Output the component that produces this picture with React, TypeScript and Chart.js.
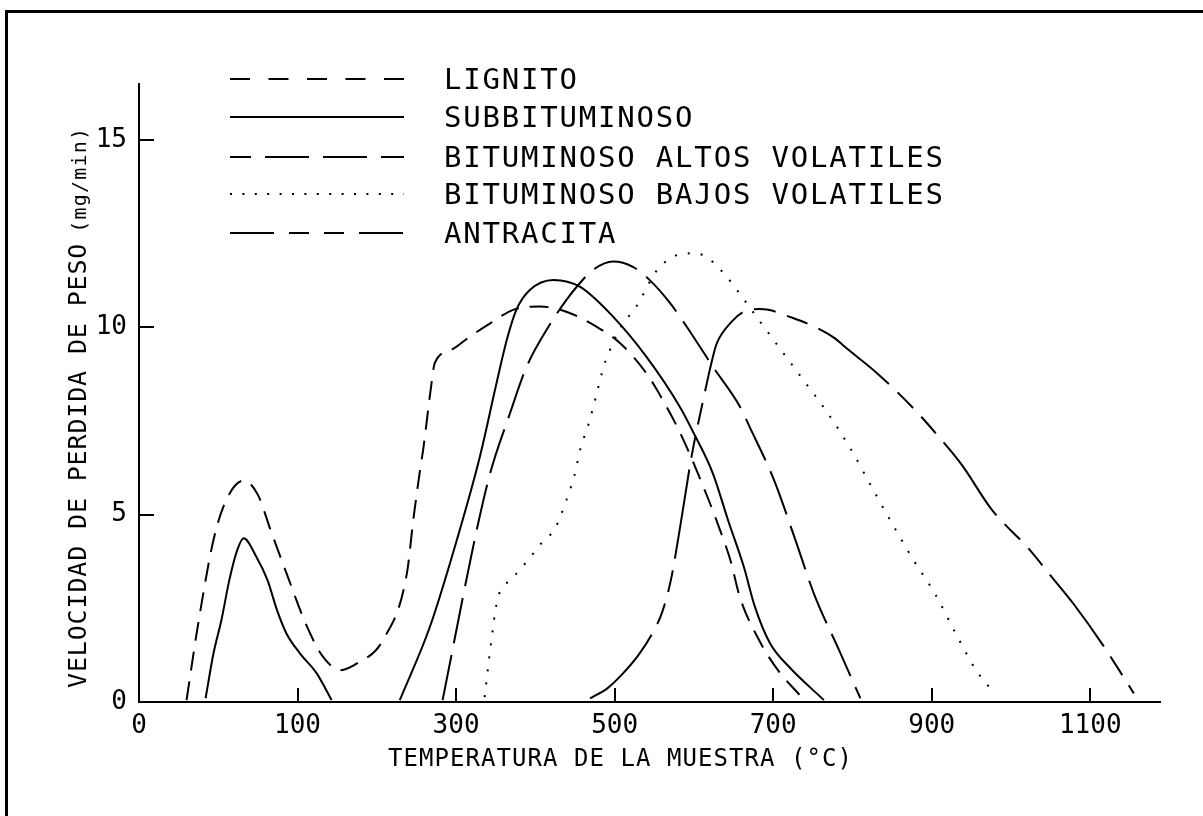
import React, { useEffect, useRef } from 'react';
import { Chart, LinearScale, registerables } from 'chart.js';

// ---------- axis ticks / labels ----------
const X_TICKS = [0, 100, 300, 500, 700, 900, 1100];
const Y_TICKS = [0, 5, 10, 15];
const X_TITLE = 'TEMPERATURA DE LA MUESTRA (°C)';
const Y_TITLE = 'VELOCIDAD DE PERDIDA DE PESO';
const Y_UNIT = '(mg/min)';
const LEGEND_LABELS = [
  'LIGNITO',
  'SUBBITUMINOSO',
  'BITUMINOSO ALTOS VOLATILES',
  'BITUMINOSO BAJOS VOLATILES',
  'ANTRACITA',
];

// ---------- series (temperature ºC, mg/min) ----------
const LIGNITO_T = [30, 37, 47, 55, 66, 75, 83, 93, 112, 132, 154, 175, 208, 238, 246, 254, 259, 269, 273, 294, 317, 343, 372, 406, 439, 477, 507, 540, 556, 585, 617, 633, 646, 658, 682, 706, 735];
const LIGNITO_V = [0.05, 2.0, 4.33, 5.39, 5.91, 5.53, 4.59, 3.44, 2.01, 1.21, 0.85, 1.03, 1.66, 3.44, 4.86, 6.11, 6.82, 8.51, 9.04, 9.4, 9.75, 10.11, 10.47, 10.56, 10.42, 10.02, 9.58, 8.78, 8.24, 7.08, 5.48, 4.59, 3.79, 2.8, 1.66, 0.85, 0.15];

const SUB_LOW_T = [42, 47, 52, 57, 62, 66, 74, 81, 87, 93, 103, 124, 143];
const SUB_LOW_V = [0.1, 1.3, 2.19, 3.26, 4.06, 4.37, 3.88, 3.26, 2.46, 1.83, 1.3, 0.77, 0.05];

const SUB_HIGH_T = [229, 267, 301, 330, 351, 364, 376, 393, 423, 456, 498, 540, 582, 600, 624, 643, 663, 677, 696, 720, 764];
const SUB_HIGH_V = [0.05, 2.01, 4.33, 6.55, 8.51, 9.67, 10.47, 11.0, 11.27, 11.09, 10.29, 9.22, 7.89, 7.17, 6.1, 4.86, 3.61, 2.54, 1.57, 0.94, 0.05];

const ALTOS_T = [283, 326, 343, 368, 389, 414, 439, 456, 473, 498, 523, 544, 570, 591, 624, 658, 670, 701, 728, 752, 783, 810];
const ALTOS_V = [0.05, 4.59, 6.11, 7.71, 8.95, 9.93, 10.73, 11.18, 11.54, 11.76, 11.62, 11.27, 10.65, 10.02, 8.95, 7.89, 7.36, 5.93, 4.33, 2.86, 1.39, 0.1];

const BAJOS_T = [336, 343, 352, 362, 378, 393, 408, 425, 438, 449, 457, 468, 477, 486, 492, 507, 528, 554, 584, 601, 618, 643, 664, 685, 706, 738, 769, 798, 824, 850, 877, 905, 929, 956, 979];
const BAJOS_V = [0.13, 1.39, 2.72, 3.12, 3.47, 3.85, 4.25, 4.64, 5.32, 6.03, 6.77, 7.48, 8.2, 8.94, 9.29, 9.98, 10.58, 11.54, 11.96, 11.98, 11.85, 11.31, 10.72, 10.11, 9.51, 8.6, 7.71, 6.75, 5.75, 4.77, 3.79, 2.86, 1.88, 0.85, 0.23];

const ANTRA_T = [469, 490, 510, 530, 548, 560, 571, 582, 597, 610, 624, 629, 648, 663, 682, 694, 720, 752, 778, 790, 831, 877, 909, 938, 976, 1022, 1051, 1080, 1116, 1155];
const ANTRA_V = [0.1, 0.35, 0.75, 1.25, 1.85, 2.4, 3.26, 4.59, 6.55, 7.89, 9.22, 9.58, 10.16, 10.42, 10.49, 10.47, 10.29, 10.02, 9.71, 9.49, 8.78, 7.84, 7.08, 6.33, 5.13, 4.1, 3.35, 2.59, 1.52, 0.23];

// ---------- the printed temperature axis: first interval 100 ºC, then 200 ºC per tick ----------
function toUnit(t: number) {
  return t <= 100 ? t / 100 : 1 + (t - 100) / 200;
}
function fromUnit(u: number) {
  return u <= 1 ? u * 100 : 100 + (u - 1) * 200;
}

class BrokenTempScale extends LinearScale {
  static id = 'brokenTemp';
  static defaults = LinearScale.defaults;
  getPixelForValue(value: any) {
    if (value === null || value === undefined || isNaN(value)) return NaN;
    const a = toUnit(this.min);
    const b = toUnit(this.max);
    return this.getPixelForDecimal((toUnit(value) - a) / (b - a));
  }
  getValueForPixel(pixel: number) {
    const a = toUnit(this.min);
    const b = toUnit(this.max);
    return fromUnit(a + this.getDecimalForPixel(pixel) * (b - a));
  }
}

Chart.register(...registerables, BrokenTempScale as any);

const FONT = '"DejaVu Sans Mono", "Liberation Mono", monospace';

const legendStyles = [
  { dash: [20, 18.5], offset: 0 },
  { dash: [], offset: 0 },
  { dash: [44, 14], offset: 23 },
  { dash: [2, 10.4], offset: 0 },
  { dash: [44, 15, 20, 15, 20, 15], offset: 0 },
];
const legendRowY = [79, 117, 157, 194, 233];

const decorPlugin = {
  id: 'decor',
  afterDraw(chart: any) {
    const ctx = chart.ctx as CanvasRenderingContext2D;
    const xs = chart.scales.x;
    const ys = chart.scales.y;
    const area = chart.chartArea;
    ctx.save();
    ctx.strokeStyle = '#000';
    ctx.fillStyle = '#000';
    ctx.lineWidth = 2;
    // inward tick marks
    ctx.beginPath();
    xs.ticks.forEach((t: any) => {
      if (t.value === 0) return;
      const px = Math.round(xs.getPixelForValue(t.value));
      ctx.moveTo(px, area.bottom);
      ctx.lineTo(px, area.bottom - 14);
    });
    ys.ticks.forEach((t: any) => {
      if (t.value === 0) return;
      const py = Math.round(ys.getPixelForValue(t.value));
      ctx.moveTo(area.left, py);
      ctx.lineTo(area.left + 15, py);
    });
    ctx.stroke();

    // legend
    const lx0 = 230;
    const lx1 = 404;
    LEGEND_LABELS.forEach((label, i) => {
      const y = legendRowY[i];
      const st = legendStyles[i];
      ctx.save();
      ctx.lineWidth = 2;
      ctx.setLineDash(st.dash);
      ctx.lineDashOffset = st.offset;
      ctx.beginPath();
      ctx.moveTo(lx0, y);
      ctx.lineTo(lx1, y);
      ctx.stroke();
      ctx.restore();
      ctx.save();
      (ctx as any).letterSpacing = '1.8px';
      ctx.font = `29px ${FONT}`;
      ctx.textAlign = 'left';
      ctx.textBaseline = 'alphabetic';
      ctx.fillText(label, 444, y + 10);
      ctx.restore();
    });

    // x title
    ctx.save();
    (ctx as any).letterSpacing = '1.05px';
    ctx.font = `24px ${FONT}`;
    ctx.textAlign = 'left';
    ctx.textBaseline = 'alphabetic';
    ctx.fillText(X_TITLE, 388, 766);
    ctx.restore();

    // y title (rotated)
    ctx.save();
    ctx.translate(86, 688);
    ctx.rotate(-Math.PI / 2);
    (ctx as any).letterSpacing = '0.85px';
    ctx.font = `25px ${FONT}`;
    ctx.textAlign = 'left';
    ctx.textBaseline = 'alphabetic';
    ctx.fillText(Y_TITLE, 0, 0);
    const w = ctx.measureText(Y_TITLE).width;
    (ctx as any).letterSpacing = '1.2px';
    ctx.font = `20px ${FONT}`;
    ctx.fillText(Y_UNIT, w + 10, 0);
    ctx.restore();

    ctx.restore();
  },
};

function series(T: number[], V: number[]) {
  return T.map((t, i) => ({ x: t, y: V[i] }));
}

export default function App() {
  const ref = useRef<HTMLCanvasElement | null>(null);
  useEffect(() => {
    if (!ref.current) return;
    const common = {
      borderColor: '#000',
      borderWidth: 2,
      pointRadius: 0,
      fill: false,
      cubicInterpolationMode: 'monotone' as const,
      borderCapStyle: 'butt' as const,
    };
    const chart = new Chart(ref.current, {
      type: 'line',
      data: {
        datasets: [
          { ...common, label: LEGEND_LABELS[0], data: series(LIGNITO_T, LIGNITO_V), borderDash: [19, 11] },
          { ...common, label: LEGEND_LABELS[1], data: series(SUB_LOW_T, SUB_LOW_V) },
          { ...common, label: LEGEND_LABELS[1], data: series(SUB_HIGH_T, SUB_HIGH_V) },
          { ...common, label: LEGEND_LABELS[2], data: series(ALTOS_T, ALTOS_V), borderDash: [46, 12] },
          { ...common, label: LEGEND_LABELS[3], data: series(BAJOS_T, BAJOS_V), borderDash: [2, 11] },
          { ...common, label: LEGEND_LABELS[4], data: series(ANTRA_T, ANTRA_V), borderDash: [90, 12, 22, 12, 22, 12] },
        ] as any,
      },
      options: {
        animation: false,
        responsive: false,
        devicePixelRatio: 1,
        layout: { padding: { left: 0, top: 84, right: 43, bottom: 0 } },
        plugins: { legend: { display: false }, tooltip: { enabled: false }, title: { display: false } },
        scales: {
          x: {
            type: 'brokenTemp' as any,
            min: 0,
            max: 1188,
            afterBuildTicks: (s: any) => {
              s.ticks = X_TICKS.map((v) => ({ value: v }));
            },
            afterFit: (s: any) => {
              s.height = 114;
            },
            grid: { display: true, drawOnChartArea: false, drawTicks: false, color: 'rgba(0,0,0,0)' },
            border: { display: true, color: '#000', width: 2 },
            ticks: {
              autoSkip: false,
              maxRotation: 0,
              padding: 9,
              color: '#000',
              font: { family: FONT, size: 26 },
              callback: (v: any) => String(v),
            },
          },
          y: {
            type: 'linear',
            min: 0,
            max: 16.5,
            afterBuildTicks: (s: any) => {
              s.ticks = Y_TICKS.map((v) => ({ value: v }));
            },
            afterFit: (s: any) => {
              s.width = 139;
            },
            grid: { display: true, drawOnChartArea: false, drawTicks: false, color: 'rgba(0,0,0,0)' },
            border: { display: true, color: '#000', width: 2 },
            ticks: {
              padding: 12,
              color: '#000',
              font: { family: FONT, size: 26 },
              callback: (v: any) => String(v),
            },
          },
        },
      },
      plugins: [decorPlugin],
    } as any);
    return () => chart.destroy();
  }, []);

  return (
    <div style={{ position: 'fixed', left: 0, top: 0, width: 1203, height: 816, background: '#fff', overflow: 'hidden' }}>
      <div
        style={{
          position: 'absolute',
          left: 5,
          top: 10,
          width: 1203,
          height: 816,
          borderTop: '3px solid #000',
          borderLeft: '3px solid #000',
          boxSizing: 'border-box',
        }}
      />
      <canvas ref={ref} width={1203} height={816} style={{ position: 'absolute', left: 0, top: 0, width: 1203, height: 816 }} />
    </div>
  );
}
